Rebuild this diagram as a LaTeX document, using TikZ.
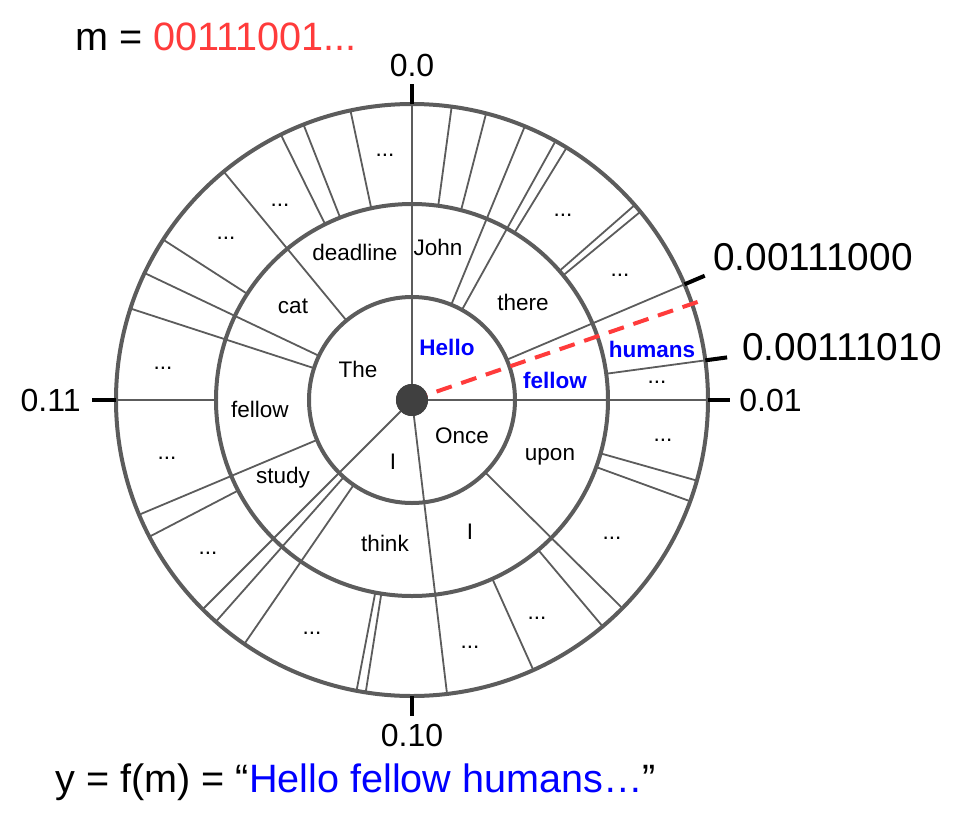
\documentclass[tikz,border=0pt]{standalone}
\usepackage{fontspec}
\setmainfont{Liberation Sans}
\usetikzlibrary{positioning}
\definecolor{ringgray}{HTML}{5C5C5C}
\definecolor{bitred}{HTML}{FF3B3B}
\definecolor{pathblue}{HTML}{0000FF}
\tikzset{ring/.style = {draw=ringgray, line width=2pt}}
\tikzset{spoke/.style = {draw=ringgray, line width=0.9pt}}
\tikzset{tickline/.style = {draw=black, line width=2pt}}
\tikzset{hub/.style = {fill=black!75, circle, inner sep = 0, minimum size = 16pt}}
\tikzset{ringword/.style = {font=\fontsize{11.25pt}{13pt}\selectfont, inner sep = 0}}
\tikzset{pathword/.style = {ringword, text=pathblue, font=\fontsize{11.25pt}{13pt}\selectfont\bfseries}}
\tikzset{tickno/.style = {font=\fontsize{16pt}{19pt}\selectfont, inner sep = 0}}
\tikzset{bintext/.style = {font=\fontsize{19.4pt}{22pt}\selectfont, inner sep = 0}}
\tikzset{bigtext/.style = {font=\fontsize{19.8pt}{23pt}\selectfont, inner sep = 0}}

\begin{document}
\begin{tikzpicture}[x=0.5pt, y=0.5pt]
    \useasboundingbox (-412,-416) rectangle (552,400);

    % spokes: through all rings, from inner ring, from middle ring
    \foreach \a in {0, 90, 225, 276.8}
        \draw [spoke] (0,0) -- (\a:296);
    \foreach \a in {23, 61, 67.6, 129.5, 154.6, 162, 202.8, 228.5, 235.5, 315.3}
        \draw [spoke] (\a:103) -- (\a:296);
    \foreach \a in {7.7, 39.5, 41.2, 58.5, 75.5, 82.3, 102, 111.5, 116.3, 147.2, 180,
                    207.5, 259.2, 261, 294.2, 310.1, 340, 344.2}
        \draw [spoke] (\a:196) -- (\a:296);

    \draw [ring] (0,0) circle [radius=51.5pt];
    \draw [ring] (0,0) circle [radius=98pt];
    \draw [ring] (0,0) circle [radius=148pt];

    % ticks
    \coordinate (t0) at (0:318);
    \coordinate (t90) at (90:316);
    \coordinate (t180) at (180:320);
    \coordinate (t270) at (270:316);
    \coordinate (thi) at (23:318);
    \coordinate (tlo) at (7.7:318);
    \draw [tickline] (0:296) -- (t0);
    \draw [tickline] (90:296) -- (t90);
    \draw [tickline] (180:296) -- (t180);
    \draw [tickline] (270:296) -- (t270);
    \draw [tickline] (23:296) -- (thi);
    \draw [tickline] (7.7:296) -- (tlo);

    \node [tickno, above=3.5pt of t90] (zero) {0.0};
    \node [tickno, right=4.5pt of t0] (quarter) {0.01};
    \node [tickno, below=4pt of t270] (half) {0.10};
    \node [tickno, left=5.5pt of t180] (threeq) {0.11};
    \node [bintext, anchor=west] (upper) at (301,143) {0.00111000};
    \node [bintext, anchor=west] (lower) at (330,53) {0.00111010};

    % sampled point
    \coordinate (mend) at (18.95:302);
    \node [hub] (centre) at (0,0) {};
    \draw [bitred, line width=2pt, dash pattern=on 8pt off 5pt] (centre.center) -- (mend);
    \node [hub] at (0,0) {};

    % first token
    \node [pathword] (hello) at (35,53) {Hello};
    \node [ringword] (the) at (-54,31) {The};
    \node [ringword] (i1) at (-19,-62) {I};
    \node [ringword] (once) at (50,-36) {Once};

    % second token
    \node [pathword] (fellow) at (143,20) {fellow};
    \node [ringword] (there) at (111,98) {there};
    \node [ringword] (john) at (26,153) {John};
    \node [ringword] (deadline) at (-57,148) {deadline};
    \node [ringword] (cat) at (-119,94) {cat};
    \node [ringword] (fellow2) at (-152,-9) {fellow};
    \node [ringword] (study) at (-129,-78) {study};
    \node [ringword] (think) at (-27,-143) {think};
    \node [ringword] (i2) at (58,-132) {I};
    \node [ringword] (upon) at (138,-57) {upon};

    % third token
    \node [pathword] (humans) at (240,51) {humans};
    \node [ringword] (d1) at (-27,245) {...};
    \node [ringword] (d2) at (-132,195) {...};
    \node [ringword] (d3) at (-186,162) {...};
    \node [ringword] (d4) at (-249,32) {...};
    \node [ringword] (d5) at (-245,-58) {...};
    \node [ringword] (d6) at (-204,-153) {...};
    \node [ringword] (d7) at (-100,-233) {...};
    \node [ringword] (d8) at (58,-247) {...};
    \node [ringword] (d9) at (125,-218) {...};
    \node [ringword] (d10) at (200,-138) {...};
    \node [ringword] (d11) at (251,-40) {...};
    \node [ringword] (d12) at (245,18) {...};
    \node [ringword] (d13) at (208,125) {...};
    \node [ringword] (d14) at (151,185) {...};

    % message and output
    \node [bigtext, anchor=west] (msg) at (-337,363) {m = \textcolor{bitred}{00111001...}};
    \node [bigtext, anchor=base west] (out) at (-357,-392) {y = f(m) = “\textcolor{pathblue}{Hello fellow humans…}”};
\end{tikzpicture}
\end{document}
